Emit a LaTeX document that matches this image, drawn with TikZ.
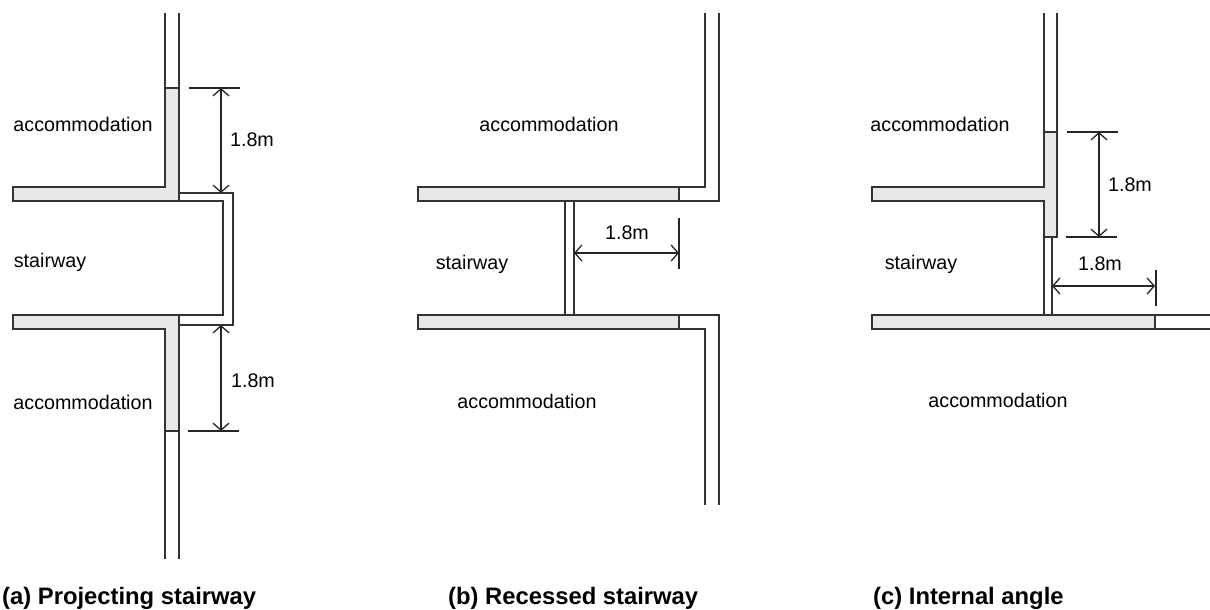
\documentclass[tikz,border=0pt]{standalone}
\usepackage{fontspec}
\setmainfont{Liberation Sans}
\usetikzlibrary{arrows.meta}
\tikzset{
  wall/.style={draw=black!80,line width=1.4pt},
  wallfill/.style={wall,fill=black!9},
  dimline/.style={black!85,line width=1.3pt,{Straight Barb[length=7pt,width=16pt]}-{Straight Barb[length=7pt,width=16pt]}},
  tickline/.style={black!85,line width=1.3pt},
  lbl/.style={inner sep=0pt,font=\fontsize{19.7}{22}\selectfont},
  caption/.style={inner sep=0pt,anchor=base west,font=\fontsize{23.8}{26}\selectfont\bfseries}
}
\begin{document}
\begin{tikzpicture}[x=1pt,y=-1pt]
\useasboundingbox (0,0) rectangle (1210,610);

% (a)
\draw[wall] (165,13) -- (165,88);
\draw[wall] (179,13) -- (179,88);
\draw[wallfill] (13,187) -- (165,187) -- (165,88) -- (179,88) -- (179,201) -- (13,201) -- cycle;
\draw[wallfill] (13,315) -- (179,315) -- (179,431) -- (165,431) -- (165,329) -- (13,329) -- cycle;
\draw[wall] (165,431) -- (165,559);
\draw[wall] (179,431) -- (179,559);
\draw[wall] (179,193) -- (233,193) -- (233,325) -- (179,325);
\draw[wall] (179,201) -- (223,201) -- (223,315) -- (179,315);

\draw[tickline] (189,88) -- (240,88);
\draw[tickline] (188,431) -- (239,431);
\draw[dimline] (221,88) -- (221,193);
\draw[dimline] (221,325) -- (221,431);

\node[lbl] (accupa) at (83,124) {accommodation};
\node[lbl] (acclowa) at (83,402) {accommodation};
\node[lbl] (staira) at (50,262) {stairway};
\node[lbl] (dimupa) at (252,140) {1.8m};
\node[lbl] (dimlowa) at (253,381) {1.8m};

% (b)
\draw[wallfill] (418,187) rectangle (679,201);
\draw[wallfill] (418,315) rectangle (679,329);
\draw[wall] (679,187) -- (705,187) -- (705,13);
\draw[wall] (679,201) -- (719,201) -- (719,13);
\draw[wall] (679,315) -- (719,315) -- (719,505);
\draw[wall] (679,329) -- (705,329) -- (705,505);
\draw[wall] (565,201) -- (565,315);
\draw[wall] (574,201) -- (574,315);

\draw[tickline] (679,218) -- (679,269);
\draw[dimline] (574,253) -- (679,253);

\node[lbl] (accupb) at (549,124) {accommodation};
\node[lbl] (acclowb) at (527,401) {accommodation};
\node[lbl] (stairb) at (472,264) {stairway};
\node[lbl] (dimb) at (627,233) {1.8m};

% (c)
\draw[wall] (1044,13) -- (1044,132);
\draw[wall] (1057,13) -- (1057,132);
\draw[wallfill] (872,187) -- (1044,187) -- (1044,132) -- (1057,132) -- (1057,237) -- (1044,237) -- (1044,201) -- (872,201) -- cycle;
\draw[wall] (1044,237) -- (1044,315);
\draw[wall] (1052,237) -- (1052,315);
\draw[wallfill] (872,315) rectangle (1155,329);
\draw[wall] (1155,315) -- (1210,315);
\draw[wall] (1155,329) -- (1210,329);

\draw[tickline] (1067,132) -- (1118,132);
\draw[tickline] (1066,237) -- (1117,237);
\draw[tickline] (1156,270) -- (1156,306);
\draw[dimline] (1099,132) -- (1099,237);
\draw[dimline] (1052,286) -- (1155,286);

\node[lbl] (accupc) at (940,124) {accommodation};
\node[lbl] (acclowc) at (998,400) {accommodation};
\node[lbl] (stairc) at (921,264) {stairway};
\node[lbl] (dimupc) at (1130,185) {1.8m};
\node[lbl] (dimlowc) at (1100,264) {1.8m};

\node[caption] (capa) at (2,604) {(a) Projecting stairway};
\node[caption] (capb) at (448,604) {(b) Recessed stairway};
\node[caption] (capc) at (873,604) {(c) Internal angle};
\end{tikzpicture}
\end{document}
